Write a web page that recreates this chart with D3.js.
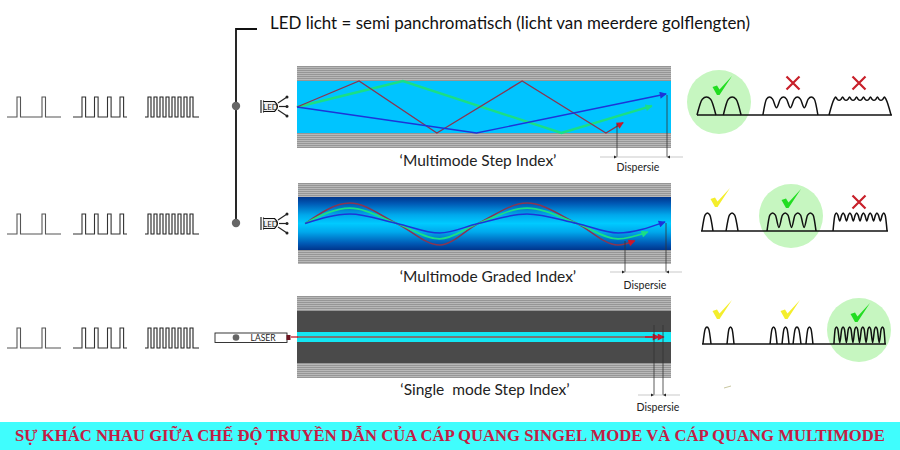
<!DOCTYPE html>
<html>
<head>
<meta charset="utf-8">
<script src="https://cdn.jsdelivr.net/npm/d3@7"></script>
<style>
  html, body { margin: 0; padding: 0; background: #fff; }
  svg { display: block; }
  text { font-family: Lato, "Open Sans", sans-serif; white-space: pre; }
</style>
</head>
<body>
<svg id="chart" width="900" height="450"></svg>
<script>
// --- values ---
const headline = "LED licht = semi panchromatisch (licht van meerdere golflengten)";
const banner = "SỰ KHÁC NHAU GIỮA CHẾ ĐỘ TRUYỀN DẪN CỦA CÁP QUANG SINGEL MODE VÀ CÁP QUANG MULTIMODE";
const fiberNames = ["‘Multimode Step Index’", "‘Multimode Graded Index’", "‘Single  mode Step Index’"];
const dispersionLabel = "Dispersie";

// pulse starts in time units, 0..54 per train
const pulseTrains = [
  [10, 35],
  [9, 21.5, 34.5, 47],
  [3, 9, 15, 21, 27, 33, 39, 45],
];
const pulseWidths = [3.5, 3.6, 3];

// rays: [distance along fibre %, radial position with core edge = +-1]
const stepRed = [[0, 0], [16.6, 1], [37.4, -1], [60.2, 1], [82.6, -1], [87.2, -0.6]];
const stepGreen = [[0, 0], [28.3, 1], [70.7, -1], [94.9, 0.04]];
const stepBlue = [[0, 0], [48, -1], [98.7, 0.5]];
const gradedRed = [[1.9, 0], [13.9, 0.77], [26.5, 0], [38, -0.81], [48.3, 0], [61.4, 0.77], [74.8, 0], [85.8, -0.81], [90.3, -0.65]];
const gradedGreen = [[1.9, 0], [13.9, 0.58], [26.5, 0], [38, -0.58], [48.3, 0], [61.4, 0.58], [74.8, 0], [85.8, -0.58], [93.8, -0.32]];
const gradedBlue = [[1.9, 0], [13.9, 0.36], [26.5, 0], [38, -0.36], [48.3, 0], [61.4, 0.36], [74.8, 0], [85.8, -0.36], [98.4, 0.06]];

// output spectra: [from %, to %, humps, valley height 0..1, rising edge %]
const spectraStep = [[0, 9.7, 1, 0, 4.85], [13.5, 22.6, 1, 0, 4.55], [33.8, 62, 4, 0.4, 3.4], [67.7, 99.5, 8, 0.82, 3.4]];
const spectraGraded = [[0.5, 6.4, 1, 0, 2.95], [13.4, 19.8, 1, 0, 3.2], [35.3, 61.5, 4, 0.2, 3], [70.6, 99.5, 8, 0.55, 1.8]];
const spectraSingle = [[0.5, 4.9, 1, 0, 2.2], [13.6, 17.4, 1, 0, 1.9], [37, 40.8, 1, 0, 1.9], [43.5, 47.3, 1, 0, 1.9],
  [49.5, 53.8, 1, 0, 2.1], [56.5, 60.3, 1, 0, 1.9], [71.7, 99.5, 8, 0.08, 1.4]];

// marks above the spectra: which group gets which verdict
const verdictsStep = ["good", "no", "no"];
const verdictsGraded = ["ok", "good", "no"];
const verdictsSingle = ["ok", "ok", "good"];

// --- drawing ---
const svg = d3.select("#chart");
const defs = svg.append("defs");

const colors = { red: "#8a3550", green: "#1adf85", blue: "#1c35d8", redHead: "#c8182c" };

function arrowMarker(id, fill) {
  defs.append("marker").attr("id", id)
    .attr("viewBox", "0 0 10 10").attr("refX", 9).attr("refY", 5)
    .attr("markerUnits", "userSpaceOnUse")
    .attr("markerWidth", 8).attr("markerHeight", 7)
    .attr("orient", "auto")
    .append("path").attr("d", "M0,0L10,5L0,10Z").attr("fill", fill);
}
arrowMarker("head-red", colors.redHead);
arrowMarker("head-green", colors.green);
arrowMarker("head-blue", colors.blue);

const coreGrad = defs.append("linearGradient").attr("id", "graded")
  .attr("x1", 0).attr("x2", 0).attr("y1", 0).attr("y2", 1);
[[0, "#00358c"], [0.12, "#0058b4"], [0.34, "#00a8ec"], [0.5, "#00caff"],
 [0.66, "#00a8ec"], [0.88, "#0058b4"], [1, "#00358c"]].forEach(([o, c]) =>
  coreGrad.append("stop").attr("offset", o).attr("stop-color", c));

// top-left bracket from the headline down to both LEDs
svg.append("path").attr("d", "M257,29H236V223").attr("fill", "none")
  .attr("stroke", "#111").attr("stroke-width", 1.8);
[106, 223].forEach(y => svg.append("circle").attr("cx", 236).attr("cy", y).attr("r", 4.2).attr("fill", "#666"));
svg.append("text").attr("x", 270).attr("y", 29).attr("font-size", 17).attr("fill", "#111")
  .attr("textLength", 480).attr("lengthAdjust", "spacingAndGlyphs").text(headline);

// input pulse trains, same three per row
const trainX = [[7, 61], [73, 127], [145, 199]];
const trainColor = ["#555", "#333", "#222"];
[[97, 117], [214, 234], [328, 348]].forEach(([top, base]) => {
  const y = d3.scaleLinear().domain([0, 1]).range([base, top]);
  pulseTrains.forEach((starts, i) => {
    const x = d3.scaleLinear().domain([0, 54]).range(trainX[i]);
    const pts = [[0, 0]];
    starts.forEach(s => pts.push([s, 0], [s, 1], [s + pulseWidths[i], 1], [s + pulseWidths[i], 0]));
    pts.push([54, 0]);
    svg.append("path")
      .attr("d", d3.line().x(d => x(d[0])).y(d => y(d[1]))(pts))
      .attr("fill", "none").attr("stroke", trainColor[i]).attr("stroke-width", 1.1);
  });
});

function stripes(g, x0, x1, y0, y1) {
  g.append("rect").attr("x", x0).attr("y", y0).attr("width", x1 - x0).attr("height", y1 - y0).attr("fill", "#b8b8b8");
  g.selectAll(null).data(d3.range(y0 + 0.5, y1, 2)).join("line")
    .attr("x1", x0).attr("x2", x1).attr("y1", d => d).attr("y2", d => d)
    .attr("stroke", "#969696").attr("stroke-width", 1);
}

function fiber(opt) {
  const g = svg.append("g");
  stripes(g, opt.x0, opt.x1, opt.top, opt.coreTop);
  stripes(g, opt.x0, opt.x1, opt.coreBottom, opt.bottom);
  g.append("rect").attr("x", opt.x0).attr("y", opt.coreTop)
    .attr("width", opt.x1 - opt.x0).attr("height", opt.coreBottom - opt.coreTop)
    .attr("fill", opt.fill);
  return {
    g,
    x: d3.scaleLinear().domain([0, 100]).range([opt.x0, opt.x1]),
    y: d3.scaleLinear().domain([-1, 1]).range([opt.coreBottom, opt.coreTop]),
  };
}

function ray(f, pts, color, head, curve, w) {
  f.g.append("path")
    .attr("d", d3.line().x(d => f.x(d[0])).y(d => f.y(d[1])).curve(curve)(pts))
    .attr("fill", "none").attr("stroke", color).attr("stroke-width", w || 1.5)
    .attr("marker-end", `url(#${head})`);
}

// dispersion dimension: two verticals, little arrows, label
function dispersion(x1, x2, yFrom1, yFrom2, yLine, left, right, labelX, labelY) {
  const g = svg.append("g");
  g.append("line").attr("x1", x1).attr("x2", x1).attr("y1", yFrom1).attr("y2", yLine).attr("stroke", "#333").attr("stroke-width", 0.8);
  g.append("line").attr("x1", x2).attr("x2", x2).attr("y1", yFrom2).attr("y2", yLine).attr("stroke", "#333").attr("stroke-width", 0.8);
  g.append("line").attr("x1", left).attr("x2", right).attr("y1", yLine).attr("y2", yLine).attr("stroke", "#bbb").attr("stroke-width", 0.8);
  g.selectAll(null).data([[x1, -1], [x2, 1]]).join("path")
    .attr("d", d => `M${d[0]},${yLine}l${d[1] * 3},-1.5v3Z`).attr("fill", "#222");
  g.append("text").attr("x", labelX).attr("y", labelY).attr("text-anchor", "middle")
    .attr("font-size", 10.5).attr("fill", "#222").text(dispersionLabel);
}

function fiberTitle(name, x, y) {
  svg.append("text").attr("x", x).attr("y", y).attr("text-anchor", "middle")
    .attr("font-size", 15.5).attr("fill", "#222").text(name);
}

// step index
const f1 = fiber({ x0: 297, x1: 671, top: 66, coreTop: 81, coreBottom: 133, bottom: 148, fill: "#00c4ff" });
ray(f1, stepGreen, colors.green, "head-green", d3.curveLinear, 2.4);
ray(f1, stepRed, colors.red, "head-red", d3.curveLinear, 1.3);
ray(f1, stepBlue, colors.blue, "head-blue", d3.curveLinear, 1.4);
fiberTitle(fiberNames[0], 478, 166);
dispersion(617, 667, 124, 95, 157, 600, 683, 638, 171);

// graded index
const f2 = fiber({ x0: 298, x1: 671, top: 183, coreTop: 197, coreBottom: 250, bottom: 264, fill: "url(#graded)" });
ray(f2, gradedRed, colors.red, "head-red", d3.curveMonotoneX);
ray(f2, gradedGreen, colors.green, "head-green", d3.curveMonotoneX, 1.8);
ray(f2, gradedBlue, colors.blue, "head-blue", d3.curveMonotoneX);
fiberTitle(fiberNames[1], 488, 282);
dispersion(625, 666, 241, 223, 272, 610, 682, 645, 289);

// single mode
const f3 = fiber({ x0: 297, x1: 671, top: 296, coreTop: 311, coreBottom: 363, bottom: 378, fill: "#4a4a4a" });
f3.g.append("rect").attr("x", 297).attr("y", 332).attr("width", 374).attr("height", 10).attr("fill", "#14e6f2");
f3.g.append("line").attr("x1", 297).attr("x2", 655).attr("y1", 337).attr("y2", 337).attr("stroke", "#777").attr("stroke-width", 2);
svg.append("line").attr("x1", 291).attr("x2", 298).attr("y1", 337).attr("y2", 337).attr("stroke", colors.redHead).attr("stroke-width", 1.3);
[659, 664].forEach(xEnd => svg.append("line").attr("x1", 645).attr("x2", xEnd).attr("y1", 337).attr("y2", 337)
  .attr("stroke", colors.redHead).attr("stroke-width", 1).attr("marker-end", "url(#head-red)"));
fiberTitle(fiberNames[2], 485, 395);
dispersion(654, 663, 325, 325, 395, 638, 680, 658, 411);

// LED emitter, drawn at its top-left
function led(x, y) {
  const g = svg.append("g").attr("transform", `translate(${x},${y})`);
  g.append("path").attr("d", "M0,0V13M2.5,0.5V12.5").attr("stroke", "#111").attr("stroke-width", 1.1).attr("fill", "none");
  g.append("path").attr("d", "M2.5,1.5H13.5Q19.5,6.5 13.5,11.5H2.5").attr("stroke", "#111").attr("stroke-width", 1.2).attr("fill", "#eee");
  g.append("text").attr("x", 9.5).attr("y", 9.5).attr("text-anchor", "middle").attr("font-size", 8).attr("fill", "#222").text("LED");
  [[17, 3, 26, -3], [18, 6.5, 26, 6.5], [17, 10, 26, 16]].forEach(a => {
    g.append("line").attr("x1", a[0]).attr("y1", a[1]).attr("x2", a[2]).attr("y2", a[3]).attr("stroke", "#222").attr("stroke-width", 1.2);
    g.append("circle").attr("cx", a[2]).attr("cy", a[3]).attr("r", 1.5).attr("fill", "#222");
  });
}
led(261, 100);
led(261, 217);

// laser
svg.append("rect").attr("x", 215).attr("y", 333).attr("width", 72).attr("height", 9.5).attr("fill", "#fff").attr("stroke", "#222").attr("stroke-width", 0.9);
svg.append("circle").attr("cx", 236).attr("cy", 337.5).attr("r", 3.3).attr("fill", "#666");
svg.append("text").attr("x", 263).attr("y", 340.8).attr("text-anchor", "middle").attr("font-size", 8.5).attr("fill", "#222").text("LASER");
svg.append("rect").attr("x", 286.5).attr("y", 335).attr("width", 4).attr("height", 5).attr("fill", "#6e1420");

// output spectra
function humpPoints(group) {
  const [from, to, n, valley, edge] = group;
  const step = n > 1 ? (to - from - 2 * edge) / (n - 1) : (to - from);
  const pts = [[from, 0]];
  d3.range(n).forEach(i => {
    const p = from + edge + i * step;
    const q = Math.min(step * 0.22, edge * 0.5);
    pts.push([p - q, 0.88], [p, 1], [p + q, 0.88]);
    pts.push(i < n - 1 ? [p + step / 2, valley] : [to, 0]);
  });
  return pts;
}

function check(cx, cy, color) {
  // tapered tick, anchored on the lowest point
  svg.append("path").attr("transform", `translate(${cx},${cy})`)
    .attr("d", "M-6.5,-7L-2,-8.5L0.5,-4.5L13,-18L0.5,1H-2Z").attr("fill", color);
}
function cross(cx, cy) {
  svg.append("path").attr("d", `M${cx - 6.5},${cy - 6.5}L${cx + 6.5},${cy + 6.5}M${cx + 6.5},${cy - 6.5}L${cx - 6.5},${cy + 6.5}`)
    .attr("stroke", "#c8202a").attr("stroke-width", 2.2).attr("fill", "none");
}

const verdictColor = { good: "#22dd22", ok: "#f4ee2c" };

function spectrum(groups, verdicts, opt) {
  const x = d3.scaleLinear().domain([0, 100]).range([opt.x0, opt.x1]);
  const y = d3.scaleLinear().domain([0, 1]).range([opt.base, opt.top]);
  svg.append("circle").attr("cx", opt.circle[0]).attr("cy", opt.circle[1]).attr("r", 32).attr("fill", "#c6f6c0");
  svg.append("line").attr("x1", opt.x0).attr("x2", opt.x1).attr("y1", opt.base).attr("y2", opt.base)
    .attr("stroke", "#111").attr("stroke-width", 1.6);
  const line = d3.line().x(d => x(d[0])).y(d => y(d[1])).curve(d3.curveMonotoneX);
  groups.forEach(gr => svg.append("path").attr("d", line(humpPoints(gr)))
    .attr("fill", "none").attr("stroke", "#111").attr("stroke-width", 1.5));
  verdicts.forEach((v, k) => {
    const [mx, my] = opt.marks[k];
    if (v === "no") cross(mx, my); else check(mx, my, verdictColor[v]);
  });
}

spectrum(spectraStep, verdictsStep, { x0: 697, x1: 892, base: 115, top: 97, circle: [719, 102],
  marks: [[719, 94], [793, 83], [859, 83]] });
spectrum(spectraGraded, verdictsGraded, { x0: 701, x1: 888, base: 231, top: 213, circle: [791, 216],
  marks: [[717, 206], [788, 207], [859, 202]] });
spectrum(spectraSingle, verdictsSingle, { x0: 702, x1: 886, base: 344, top: 327, circle: [859, 330],
  marks: [[719, 318], [787, 318], [857, 321]] });

// stray speck under the third row
svg.append("line").attr("x1", 724).attr("x2", 731).attr("y1", 388).attr("y2", 386).attr("stroke", "#c9c7a0").attr("stroke-width", 1);

// bottom banner
svg.append("rect").attr("x", 0).attr("y", 422).attr("width", 900).attr("height", 28).attr("fill", "#40fdfd");
svg.append("text").attr("x", 15).attr("y", 441).attr("font-size", 16.8).attr("font-weight", "bold")
  .style("font-family", "'Liberation Serif', serif").attr("fill", "#c41c44")
  .attr("textLength", 870).attr("lengthAdjust", "spacingAndGlyphs").text(banner);
</script>
</body>
</html>
